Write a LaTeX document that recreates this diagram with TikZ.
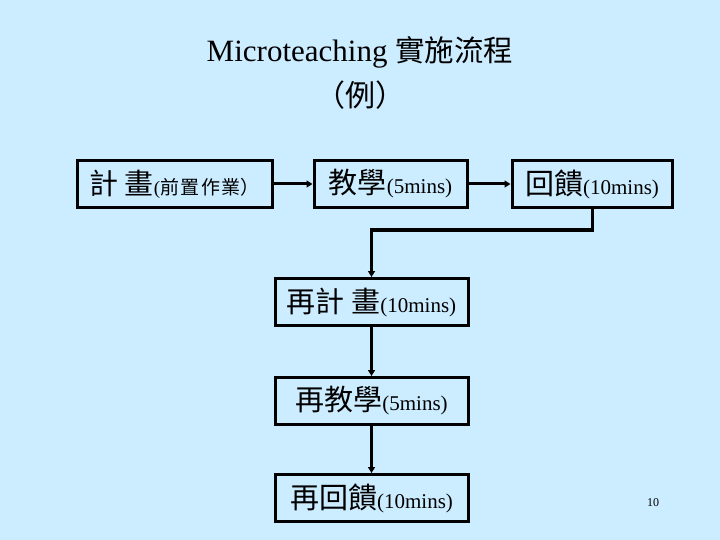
\documentclass[tikz,border=0pt]{standalone}
\usepackage{fontspec}
\setmainfont{Liberation Serif}
\newfontfamily\cjk{Noto Sans CJK TC}
\usetikzlibrary{arrows.meta}
\definecolor{bg}{RGB}{204,236,255}
\tikzset{
  box/.style={draw=black, line width=3pt, inner sep=0pt, minimum height=47pt, anchor=center},
  arr/.style={line width=3pt, -{Triangle[length=6pt,width=7pt]}},
}
\newcommand{\bigc}[1]{{\fontsize{29}{32}\selectfont\cjk #1}}
\newcommand{\lat}[1]{{\fontsize{21}{24}\selectfont #1}}
\begin{document}
\begin{tikzpicture}[x=1pt,y=-1pt]
\fill[bg] (0,0) rectangle (720,540);
\useasboundingbox (0,0) rectangle (720,540);
\node[font=\fontsize{31}{34}\selectfont] (t1) at (360,52) {Microteaching {\fontsize{29.5}{34}\selectfont\cjk 實施流程}};
\node[font=\fontsize{30}{34}\selectfont] (t2) at (360,95) {\cjk （例）};
\node[box, minimum width=195pt] (b1) at (174.5,184) {\bigc{計 畫}{\fontsize{19}{22}\selectfont(\cjk 前\kern1.5pt 置\kern1.5pt 作\kern1.5pt 業）}};
\node[box, minimum width=153pt] (b2) at (390.5,184) {\bigc{教學}\lat{(5mins)}};
\node[box, minimum width=160pt] (b3) at (592,184) {\bigc{回饋}\lat{(10mins)}};
\node[box, minimum width=193pt] (b4) at (371.5,302) {\bigc{再計 畫}\lat{(10mins)}};
\node[box, minimum width=193pt] (b5) at (371.5,401) {\bigc{再教學}\lat{(5mins)}};
\node[box, minimum width=193pt] (b6) at (371.5,498) {\bigc{再回饋}\lat{(10mins)}};
\coordinate (c1) at (371.5,230);
\draw[arr] (b1.east) -- (b2.west);
\draw[arr] (b2.east) -- (b3.west);
\draw[arr] (b3.south) |- (c1) -- (b4.north);
\draw[arr] (b4.south) -- (b5.north);
\draw[arr] (b5.south) -- (b6.north);
\node[font=\fontsize{12}{14}\selectfont] (pg) at (653,503) {10};
\end{tikzpicture}
\end{document}
